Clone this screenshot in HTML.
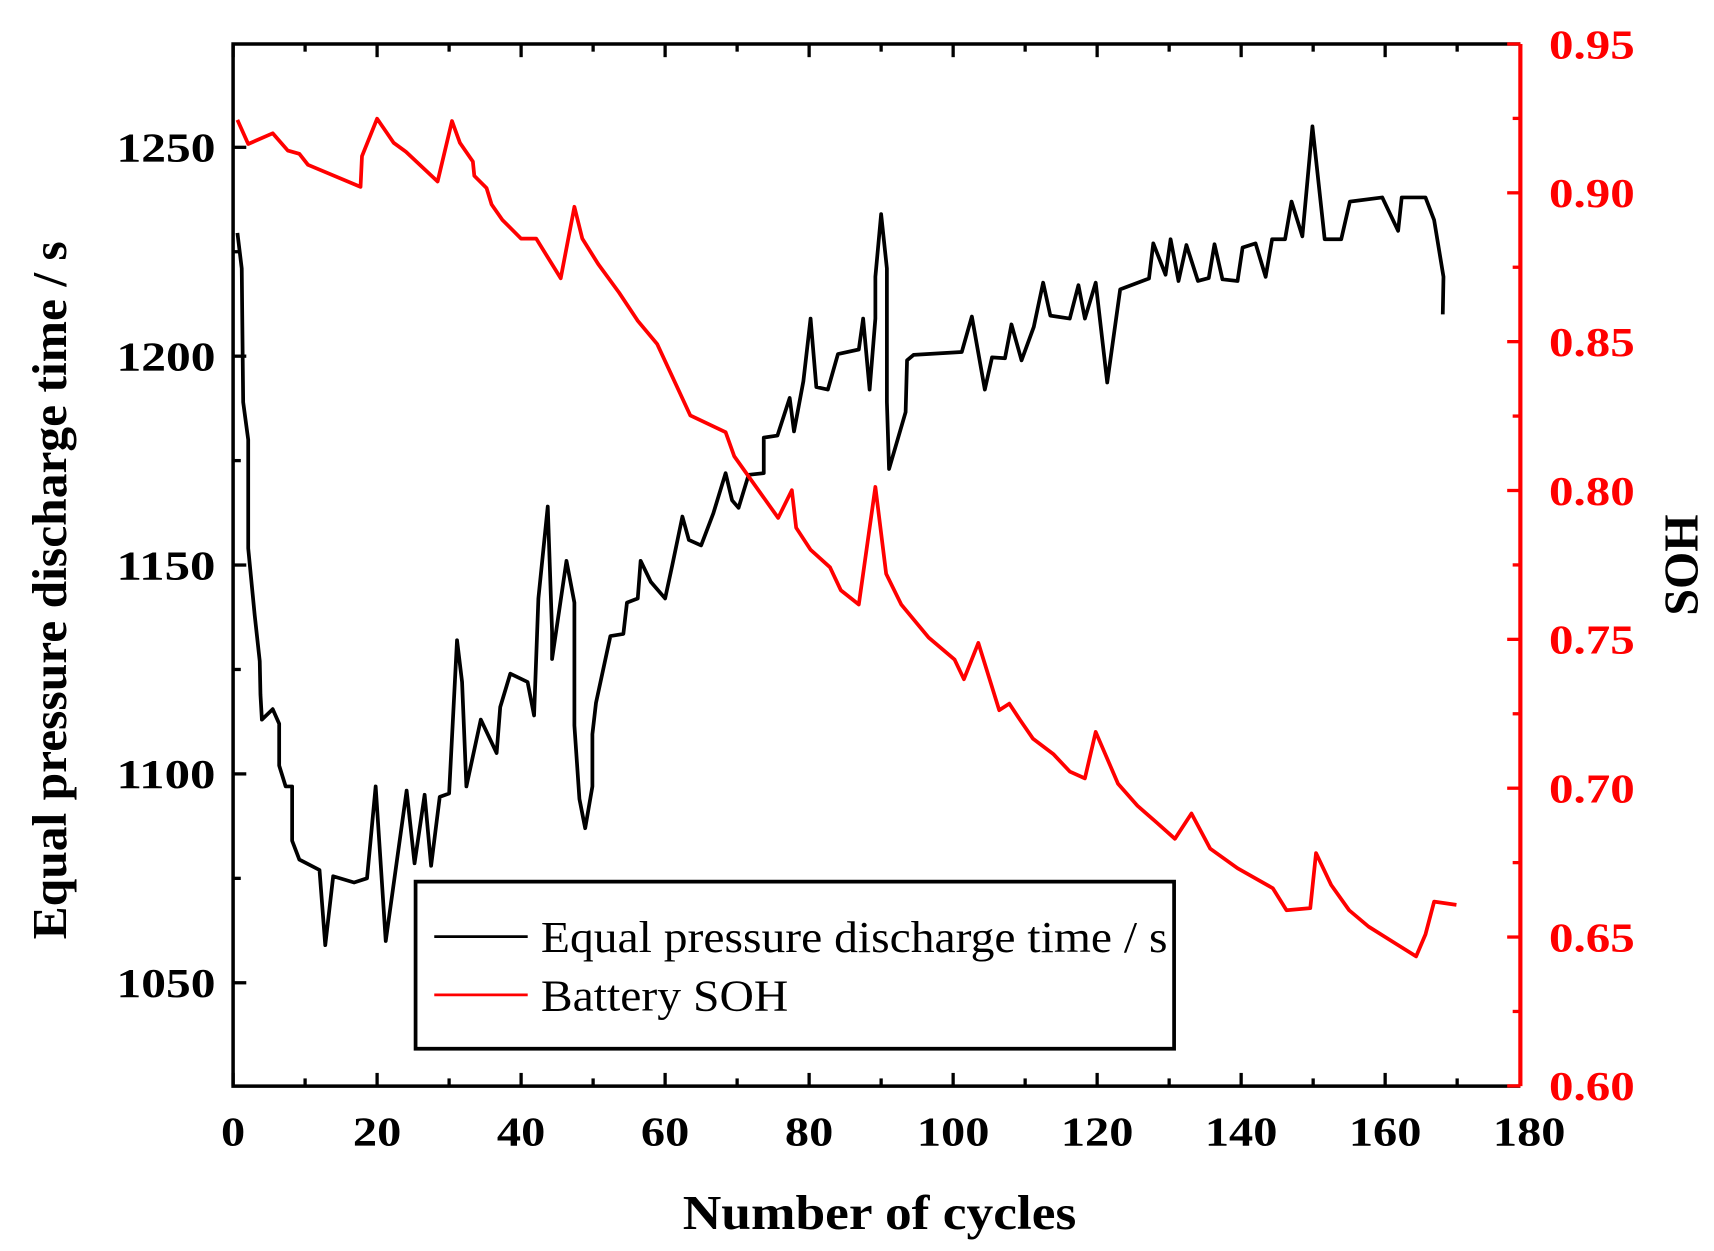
<!DOCTYPE html>
<html><head><meta charset="utf-8"><style>
html,body{margin:0;padding:0;background:#fff}
svg{display:block}
text{font-family:"Liberation Serif",serif;font-weight:bold}
</style></head><body>
<svg id="chart" width="1714" height="1251" viewBox="0 0 1559.1 1138" xmlns="http://www.w3.org/2000/svg"></svg>
<script>
const cyclesTime=[0.6,1.2,1.4,2.1,2.1,3,3.7,3.8,4,5.5,6.4,6.4,7.3,8.2,8.2,9.2,12,12.8,13.9,16.8,18.6,19.8,21.2,22.7,24.1,25.2,26.6,27.5,28.7,30,31.1,31.8,32.4,34.4,36.6,37.1,38.5,40.9,41.8,42.4,43.7,44.3,44.3,46.3,47.4,47.4,48.1,48.9,49.9,49.9,50.4,52.4,54.2,54.7,56.2,56.6,58,60,61,62.4,63.3,65,66.7,68.4,69.3,70.2,71.6,73.7,73.7,75.6,77.3,77.9,79.2,80.2,81,82.6,84,86.9,87.5,88.4,89.2,89.2,90,90.8,90.8,91.1,93.4,93.6,94.5,101.2,102.6,104.4,105.4,107.2,108.1,109.5,111.2,112.5,113.5,116.2,117.4,118.3,119.8,121.4,123.2,127.2,127.8,129.5,130.2,131.3,132.4,134,135.5,136.3,137.4,139.5,140.2,142,143.4,144.3,146.1,147,148.5,149.9,151.6,153.9,155.1,159.6,161.8,162.3,165.6,166.8,168.1,168];
const dischargeTime=[1229.5,1221,1189,1180,1154,1138,1127,1119,1113,1115.5,1112,1102,1097,1097,1084,1079.5,1077,1059,1075.5,1074,1075,1097,1060,1078.6,1096,1078.6,1095,1078,1094.5,1095.3,1132,1122,1097,1113,1105,1116,1124,1122,1114,1142,1164,1134,1127.5,1151,1141,1111.6,1094,1087,1097,1109.5,1117,1133,1133.5,1141,1142,1151,1146,1142,1150,1161.6,1156,1154.7,1162.4,1172,1165.5,1163.7,1171.6,1172,1180.5,1181,1190,1182,1194,1209,1192.6,1192,1200.5,1201.6,1209,1192,1209,1219,1234,1221,1189,1173,1186.6,1199,1200.3,1201,1209.5,1192,1199.7,1199.5,1207.6,1199,1207,1217.6,1209.7,1209,1217,1209,1217.6,1193.7,1216,1218.6,1227,1219.5,1228,1218,1226.6,1218,1218.7,1226.8,1218.4,1218,1226,1227,1219,1228,1228,1237,1228.7,1255,1228,1228,1237,1238,1230,1238,1238,1232.6,1219,1210];
const cyclesSoh=[0.6,2.1,5.5,7.6,9.2,10.4,17.7,17.9,20,22.3,24,28.4,30.4,31.5,33.3,33.5,35.2,35.9,37.4,40,42.1,45.5,47.4,48.5,50.7,53.6,56.2,58.9,63.5,68.4,69.6,75.7,77.6,78.2,80.2,82.9,84.4,86.9,89.2,90.7,92.8,96.6,100.2,101.5,103.5,106.4,107.8,109.3,111.1,113.9,116.2,118.3,119.8,122.9,125.6,128.2,130.8,133.1,135.7,139.5,144.4,146.3,149.6,150.4,152.5,155,157.7,164.3,165.6,166.8,169.9];
const sohValues=[0.9245,0.9164,0.920,0.9142,0.9131,0.9094,0.902,0.9123,0.9249,0.9168,0.9138,0.9038,0.9241,0.9168,0.9105,0.9057,0.9016,0.8961,0.8909,0.8846,0.8846,0.8713,0.8953,0.8846,0.8761,0.8665,0.857,0.8492,0.8252,0.8196,0.8115,0.7908,0.8001,0.7875,0.7801,0.7742,0.7665,0.7617,0.8012,0.7720,0.7617,0.7506,0.7432,0.7366,0.7488,0.7262,0.7284,0.7229,0.7166,0.7115,0.7056,0.7033,0.7189,0.7015,0.6941,0.6886,0.6830,0.6915,0.6797,0.6731,0.6664,0.6590,0.6597,0.6782,0.6675,0.659,0.6535,0.6435,0.6509,0.6619,0.6608];
const xTicks=[0,20,40,60,80,100,120,140,160,180];
const leftTicks=[1050,1100,1150,1200,1250];
const rightTicks=[0.60,0.65,0.70,0.75,0.80,0.85,0.90,0.95];

const L=212,R=1383,T=40,B=988;
const sx=v=>212+v*6.55;
const syL=v=>134+(1250-v)*3.8;
const syR=v=>40+(0.95-v)*2708;
const svg=document.getElementById('chart');
const NS='http://www.w3.org/2000/svg';
function mk(tag,at,txt){const e=document.createElementNS(NS,tag);for(const k in at)e.setAttribute(k,at[k]);if(txt!==undefined)e.textContent=txt;svg.appendChild(e);return e;}

let e=mk('polyline',{points:cyclesTime.map((c,i)=>sx(c)+','+syL(dischargeTime[i])).join(' '),fill:'none',stroke:'#000','stroke-width':3.4,'stroke-linejoin':'round'});


e=mk('polyline',{points:cyclesSoh.map((c,i)=>sx(c)+','+syR(sohValues[i])).join(' '),fill:'none',stroke:'#f00','stroke-width':3.4,'stroke-linejoin':'round'});



e=mk('path',{d:`M${R},${B} H${L} V${T} H${R}`,fill:'none',stroke:'#000','stroke-width':3.2});


e=mk('line',{x1:R,y1:T,x2:R,y2:B,stroke:'#f00','stroke-width':3.8});



for(let v=0;v<=178;v+=10){const x=sx(v);const len=v%20===0?12:7;
 mk('line',{x1:x,y1:B,x2:x,y2:B-len,stroke:'#000','stroke-width':3});
 mk('line',{x1:x,y1:T,x2:x,y2:T+len,stroke:'#000','stroke-width':3});}
xTicks.forEach(v=>{const s=String(v);e=mk('text',{x:sx(v),y:1042,'text-anchor':'middle','font-size':38,textLength:s.length*22,lengthAdjust:'spacingAndGlyphs'},s);
 
 });
for(let v=1025;v<=1275;v+=25){const y=syL(v);if(y<T||y>B)continue;const len=v%50===0?12:7;
 mk('line',{x1:L,y1:y,x2:L+len,y2:y,stroke:'#000','stroke-width':3});}
leftTicks.forEach(v=>{e=mk('text',{x:196,y:syL(v)+13,'text-anchor':'end','font-size':38,textLength:90,lengthAdjust:'spacingAndGlyphs'},String(v));
 
 });
for(let k=0;k<=14;k++){const v=0.6+k*0.025;const y=syR(v);const len=k%2===0?12:7;
 mk('line',{x1:R,y1:y,x2:R-len,y2:y,stroke:'#f00','stroke-width':3});}
rightTicks.forEach(v=>{e=mk('text',{x:1409,y:syR(v)+13,'text-anchor':'start','font-size':38,fill:'#f00',textLength:78,lengthAdjust:'spacingAndGlyphs'},v.toFixed(2));
 
 });

e=mk('text',{x:800,y:1118,'text-anchor':'middle','font-size':44,textLength:358,lengthAdjust:'spacingAndGlyphs'},'Number of cycles');


e=mk('text',{x:0,y:0,'text-anchor':'middle','font-size':44,textLength:635,lengthAdjust:'spacingAndGlyphs',transform:'translate(60,537) rotate(-90)'},'Equal pressure discharge time / s');


e=mk('text',{x:0,y:0,'text-anchor':'middle','font-size':44,textLength:92,lengthAdjust:'spacingAndGlyphs',transform:'translate(1544,514) rotate(-90)'},'SOH');



e=mk('rect',{x:378,y:802,width:690,height:152,fill:'#fff',stroke:'#000','stroke-width':3.4});


mk('line',{x1:395,y1:852,x2:480,y2:852,stroke:'#000','stroke-width':2.5});
e=mk('text',{x:492,y:866,'font-size':40,style:'font-weight:normal',textLength:570,lengthAdjust:'spacingAndGlyphs'},'Equal pressure discharge time / s');


mk('line',{x1:395,y1:905,x2:480,y2:905,stroke:'#f00','stroke-width':2.5});
e=mk('text',{x:492,y:919,'font-size':40,style:'font-weight:normal',textLength:225,lengthAdjust:'spacingAndGlyphs'},'Battery SOH');


</script>
</body></html>
